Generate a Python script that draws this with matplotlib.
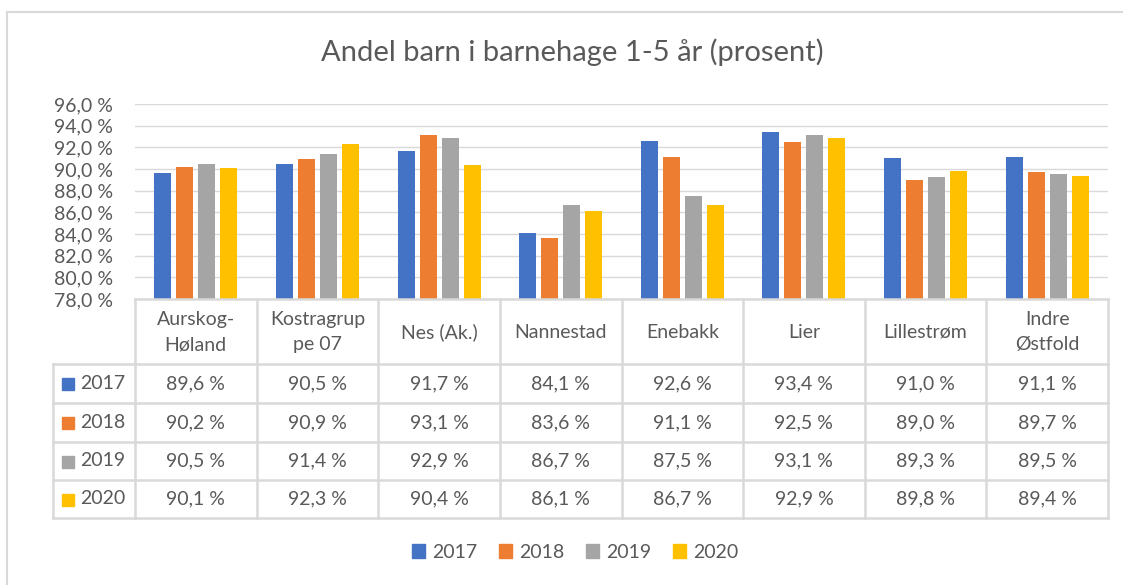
import numpy as np
import matplotlib.pyplot as plt
import matplotlib.transforms as mtransforms
from matplotlib.lines import Line2D
from matplotlib.patches import Patch, Rectangle

plt.rcParams['font.family'] = ['Lato', 'DejaVu Sans']

# Data
kommuner = ['Aurskog-\nHøland', 'Kostragrup\npe 07', 'Nes (Ak.)', 'Nannestad',
            'Enebakk', 'Lier', 'Lillestrøm', 'Indre\nØstfold']
years = ['2017', '2018', '2019', '2020']
v2017 = [89.6, 90.5, 91.7, 84.1, 92.6, 93.4, 91.0, 91.1]
v2018 = [90.2, 90.9, 93.1, 83.6, 91.1, 92.5, 89.0, 89.7]
v2019 = [90.5, 91.4, 92.9, 86.7, 87.5, 93.1, 89.3, 89.5]
v2020 = [90.1, 92.3, 90.4, 86.1, 86.7, 92.9, 89.8, 89.4]
series = [v2017, v2018, v2019, v2020]
colors = ['#4472C4', '#ED7D31', '#A5A5A5', '#FFC000']

txt = '#595959'
grid_c = '#D9D9D9'
fs = 14
W, H = 1123, 585

fig = plt.figure(figsize=(W / 100, H / 100), dpi=100)
ax = fig.add_axes([135 / W, 1 - 299 / H, 973 / W, 195 / H])

x = np.arange(len(kommuner))
step = 0.181
for i, (vals, c) in enumerate(zip(series, colors)):
    ax.bar(x + (i - 1.5) * step, vals, width=0.14, color=c, zorder=3)

ax.set_xlim(-0.5, len(kommuner) - 0.5)
ax.set_ylim(78, 96)
ax.set_yticks(np.arange(78, 97, 2))
ax.set_yticklabels([f'{t:.1f} %'.replace('.', ',') for t in np.arange(78, 97, 2)])
ax.tick_params(axis='y', length=0, pad=16, labelsize=fs, labelcolor=txt)
ax.set_xticks([])
ax.grid(axis='y', color=grid_c, lw=1, zorder=0)
for s in ax.spines.values():
    s.set_visible(False)

fig.text(572 / W, 1 - 52 / H, 'Andel barn i barnehage 1-5 år (prosent)',
         ha='center', va='center', fontsize=21, color=txt)

# outer border
fig.add_artist(Line2D([7 / W, 7 / W], [0, 1 - 12 / H], color=grid_c, lw=1.5))
fig.add_artist(Line2D([7 / W, 1], [1 - 12 / H, 1 - 12 / H], color=grid_c, lw=1.5))

# data table (x in data units, y in pixels from top)
ident = mtransforms.IdentityTransform()
ypix = mtransforms.Affine2D().scale(1, -1).translate(0, H)
tr = mtransforms.blended_transform_factory(ax.transData, ypix)
rows = [299, 364, 403, 442, 480, 518]
n = len(kommuner)
lkw = dict(color=grid_c, lw=1.8, clip_on=False, solid_capstyle='projecting')

# horizontal lines
for j, ry in enumerate(rows):
    fig.add_artist(Line2D([-0.5, n - 0.5], [ry, ry], transform=tr, **lkw))
    if j > 0:
        fig.add_artist(Line2D([53, 135], [H - ry, H - ry], transform=ident, **lkw))
# vertical lines
for k in range(n + 1):
    fig.add_artist(Line2D([k - 0.5, k - 0.5], [rows[0], rows[-1]], transform=tr, **lkw))
fig.add_artist(Line2D([53, 53], [H - rows[1], H - rows[-1]], transform=ident, **lkw))

# header labels
for k, name in enumerate(kommuner):
    fig.text(k, 332, name, transform=tr, ha='center', va='center',
             fontsize=fs, color=txt, linespacing=1.6)

# row labels and values
row_c = [(rows[j] + rows[j + 1]) / 2 for j in range(1, 5)]
for j, (yr, vals, c) in enumerate(zip(years, series, colors)):
    yc = row_c[j]
    fig.add_artist(Rectangle((62, H - yc - 6.5), 12, 12, color=c, transform=ident))
    fig.text(80, H - yc, yr, transform=ident,
             ha='left', va='center', fontsize=fs, color=txt)
    for k, v in enumerate(vals):
        fig.text(k, yc, f'{v:.1f} %'.replace('.', ','), transform=tr,
                 ha='center', va='center', fontsize=fs, color=txt)

# bottom legend
handles = [Patch(color=c, label=y) for y, c in zip(years, colors)]
fig.legend(handles=handles, loc='center', bbox_to_anchor=(575 / W, 1 - 552 / H),
           ncol=4, frameon=False, fontsize=fs, labelcolor=txt,
           handlelength=0.7, handleheight=0.7, handletextpad=0.35,
           columnspacing=1.1)

fig.savefig('out.png', dpi=100)
